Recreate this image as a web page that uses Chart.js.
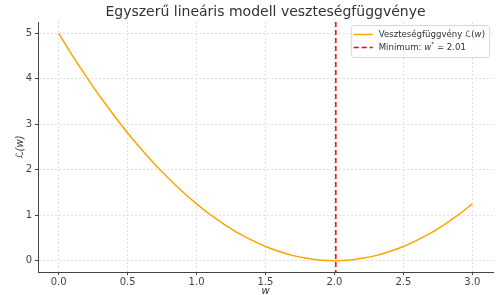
<!DOCTYPE html>
<html>
<head>
<meta charset="utf-8">
<script src="https://cdn.jsdelivr.net/npm/chart.js@4"></script>
<style>
  html, body { margin: 0; padding: 0; background: #fff; }
  #wrap { width: 500px; height: 295px; }
</style>
</head>
<body>
<div id="wrap"><canvas id="lossChart"></canvas></div>
<script>
// values
const wValues = [0.0, 0.1, 0.2, 0.3, 0.4, 0.5, 0.6, 0.7, 0.8, 0.9, 1.0,
                 1.1, 1.2, 1.3, 1.4, 1.5, 1.6, 1.7, 1.8, 1.9, 2.0,
                 2.1, 2.2, 2.3, 2.4, 2.5, 2.6, 2.7, 2.8, 2.9, 3.0];
const lossValues = [5.0, 4.51, 4.05, 3.61, 3.2, 2.81, 2.45, 2.11, 1.8, 1.51, 1.25,
                    1.01, 0.8, 0.61, 0.45, 0.31, 0.2, 0.11, 0.05, 0.01, 0.0,
                    0.01, 0.05, 0.11, 0.2, 0.31, 0.45, 0.61, 0.8, 1.01, 1.25];
const minW = 2.01;
const xTicks = [0.0, 0.5, 1.0, 1.5, 2.0, 2.5, 3.0];
const yTicks = [0, 1, 2, 3, 4, 5];
const chartTitle = 'Egyszerű lineáris modell veszteségfüggvénye';

const FONT = "'DejaVu Sans', sans-serif";
const lossColor = '#ffa500';
const minColor = '#ff0000';

// legend parts: [text, italic, superscript]
const legendRows = [
    { color: lossColor, dash: [], parts: [['Veszteségfüggvény ', false], ['ℒ(', false], ['w', true], [')', false]] },
    { color: minColor, dash: [5, 3], parts: [['Minimum: ', false], ['w', true], ['*', false, true], [' = ' + minW.toFixed(2), false]] }
];

function setFont(ctx, p, size) {
    const sz = p[2] ? size * 0.7 : size;
    ctx.font = (p[1] ? 'italic ' : '') + sz + 'px ' + FONT;
}

function drawParts(ctx, parts, x, y, size) {
    parts.forEach(p => {
        setFont(ctx, p, size);
        ctx.fillText(p[0], x, p[2] ? y - size * 0.35 : y);
        x += ctx.measureText(p[0]).width;
    });
}

function partsWidth(ctx, parts, size) {
    let w = 0;
    parts.forEach(p => {
        setFont(ctx, p, size);
        w += ctx.measureText(p[0]).width;
    });
    return w;
}

// title centred over the plot area, like the original
const titlePlugin = {
    id: 'axesTitle',
    afterDraw(chart) {
        const { ctx, chartArea } = chart;
        ctx.save();
        ctx.font = '14px ' + FONT;
        ctx.fillStyle = '#333';
        ctx.textAlign = 'center';
        ctx.textBaseline = 'middle';
        ctx.fillText(chartTitle, (chartArea.left + chartArea.right) / 2, 12);
        ctx.restore();
    }
};

const minLinePlugin = {
    id: 'minLine',
    afterDatasetsDraw(chart) {
        const { ctx, chartArea, scales } = chart;
        const x = scales.x.getPixelForValue(minW);
        ctx.save();
        ctx.strokeStyle = minColor;
        ctx.lineWidth = 1.5;
        ctx.setLineDash([5, 3]);
        ctx.beginPath();
        ctx.moveTo(x, chartArea.top);
        ctx.lineTo(x, chartArea.bottom);
        ctx.stroke();
        ctx.restore();
    }
};

const legendPlugin = {
    id: 'innerLegend',
    afterDraw(chart) {
        const { ctx, chartArea } = chart;
        const size = 8.6;
        const rowH = 13;
        ctx.save();
        let textW = 0;
        legendRows.forEach(r => { textW = Math.max(textW, partsWidth(ctx, r.parts, size)); });
        const boxW = 3 + 19 + 6 + textW + 4;
        const boxH = legendRows.length * rowH + 6;
        const bx = chartArea.right - 4 - boxW;
        const by = chartArea.top + 3;
        ctx.fillStyle = 'rgba(255,255,255,0.85)';
        ctx.strokeStyle = '#d6d6d6';
        ctx.lineWidth = 1;
        ctx.beginPath();
        ctx.roundRect(bx + 0.5, by + 0.5, boxW, boxH, 3);
        ctx.fill();
        ctx.stroke();
        legendRows.forEach((r, i) => {
            const cy = by + 3 + rowH * i + rowH / 2;
            ctx.strokeStyle = r.color;
            ctx.lineWidth = 1.5;
            ctx.setLineDash(r.dash);
            ctx.beginPath();
            ctx.moveTo(bx + 3, cy);
            ctx.lineTo(bx + 22, cy);
            ctx.stroke();
            ctx.setLineDash([]);
            ctx.fillStyle = '#333';
            ctx.textBaseline = 'middle';
            drawParts(ctx, r.parts, bx + 28, cy, size);
        });
        ctx.restore();
    }
};

const points = wValues.map((w, i) => ({ x: w, y: lossValues[i] }));

const gridOpts = {
    color: '#e0e0e0',
    tickColor: '#444',
    tickBorderDash: [],
    tickLength: 3
};

new Chart(document.getElementById('lossChart'), {
    type: 'line',
    data: {
        datasets: [{
            label: 'Veszteségfüggvény ℒ(w)',
            data: points,
            borderColor: lossColor,
            borderWidth: 1.5,
            pointRadius: 0,
            cubicInterpolationMode: 'monotone',
            fill: false
        }]
    },
    options: {
        responsive: true,
        maintainAspectRatio: false,
        animation: false,
        layout: { padding: { left: 4, right: 7, top: 22, bottom: 0 } },
        plugins: {
            legend: { display: false },
            tooltip: { enabled: false },
            title: { display: false }
        },
        scales: {
            x: {
                type: 'linear',
                min: -0.15,
                max: 3.15,
                afterBuildTicks: s => { s.ticks = xTicks.map(v => ({ value: v })); },
                afterFit: s => { s.height = 23; },
                border: { display: true, color: '#444', width: 1, dash: [2, 2] },
                grid: gridOpts,
                ticks: {
                    color: '#444',
                    padding: 1,
                    font: { family: FONT, size: 10 },
                    maxRotation: 0,
                    callback: v => v.toFixed(1)
                },
                title: {
                    display: true,
                    text: 'w',
                    color: '#333',
                    padding: { top: 0, bottom: -2 },
                    font: { family: FONT, size: 10, style: 'italic' }
                }
            },
            y: {
                min: -0.25,
                max: 5.25,
                afterBuildTicks: s => { s.ticks = yTicks.map(v => ({ value: v })); },
                afterFit: s => { s.width = 34; },
                border: { display: true, color: '#444', width: 1, dash: [2, 2] },
                grid: gridOpts,
                ticks: {
                    color: '#444',
                    padding: 3,
                    font: { family: FONT, size: 10 },
                    callback: v => String(v)
                },
                title: {
                    display: true,
                    text: 'ℒ(w)',
                    color: '#333',
                    padding: { top: 10, bottom: 0 },
                    font: { family: FONT, size: 10, style: 'italic' }
                }
            }
        }
    },
    plugins: [minLinePlugin, legendPlugin, titlePlugin]
});
</script>
</body>
</html>
